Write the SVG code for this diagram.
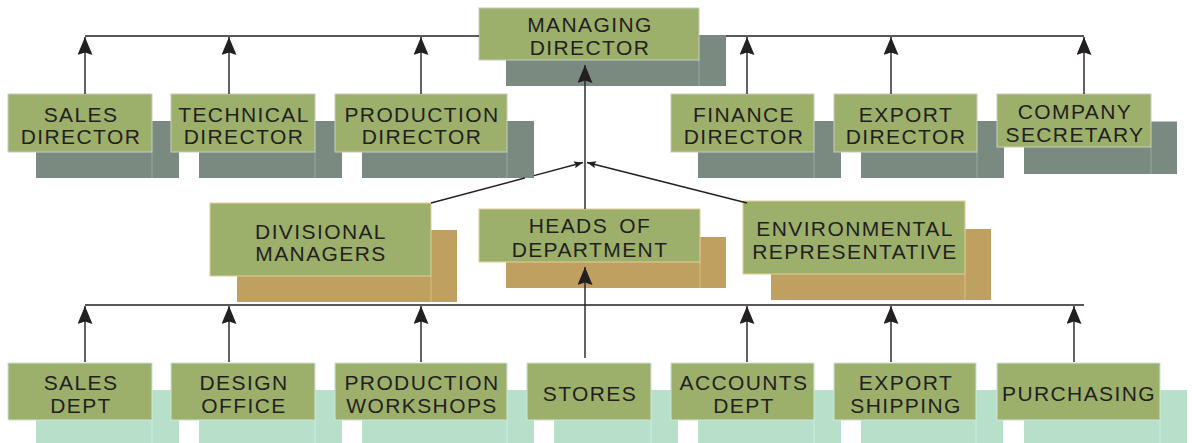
<svg xmlns="http://www.w3.org/2000/svg" width="1192" height="443" viewBox="0 0 1192 443">
  <style>
    .front { fill: #9caf6b; stroke-width: 1; }
    .dir .front { stroke: #c6cfbd; }
    .mid .front { stroke: #e2cd9c; }
    .dept .front { stroke: #c9e8d6; }
    .dir .shadow { fill: #7a8a80; }
    .mid .shadow { fill: #bfa060; }
    .dept .shadow { fill: #b8dfca; }
    .dir .seam { stroke: #9aa89f; }
    .mid .seam { stroke: #d6bd88; }
    .dept .seam { stroke: #d2ece0; }
    .seam { stroke-width: 1; }
    text { font-family: "Liberation Sans", Arial, Helvetica, sans-serif; font-size: 21px; letter-spacing: 1.4px; fill: #231f20; text-anchor: middle; }
    .conn path { fill: none; stroke: #231f20; stroke-width: 1.4; }
    .up { marker-end: url(#arrow); }
    .meet { marker-end: url(#arrowSmall); }
  </style>
  <defs>
    <marker id="arrow" markerUnits="userSpaceOnUse" viewBox="0 0 18 15" markerWidth="18" markerHeight="15" refX="18" refY="7.5" orient="auto">
      <path d="M0,0 L18,7.5 L0,15 L2.5,7.5 Z" fill="#231f20"/>
    </marker>
    <marker id="arrowSmall" markerUnits="userSpaceOnUse" viewBox="0 0 9 7" markerWidth="9" markerHeight="7" refX="9" refY="3.5" orient="auto">
      <path d="M0,0 L9,3.5 L0,7 L1.5,3.5 Z" fill="#231f20"/>
    </marker>
  </defs>

  <rect width="1192" height="443" fill="#ffffff"/>

  <!-- Board level -->
  <g id="managing-director" class="dir">
    <rect class="shadow" x="506" y="35" width="220" height="51"/>
    <line class="seam" x1="699" y1="60" x2="699" y2="86"/>
    <rect class="front" x="479" y="8" width="220" height="52"/>
    <text x="590" y="31.5">MANAGING</text>
    <text x="590" y="55">DIRECTOR</text>
  </g>

  <g id="sales-director" class="dir">
    <rect class="shadow" x="36" y="121" width="143" height="57"/>
    <line class="seam" x1="152" y1="152" x2="152" y2="178"/>
    <rect class="front" x="8" y="94" width="144" height="58"/>
    <text x="81" y="121.5">SALES</text>
    <text x="81" y="144">DIRECTOR</text>
  </g>
  <g id="technical-director" class="dir">
    <rect class="shadow" x="199" y="121" width="143" height="57"/>
    <line class="seam" x1="315" y1="152" x2="315" y2="178"/>
    <rect class="front" x="171" y="94" width="144" height="58"/>
    <text x="244" y="121.5">TECHNICAL</text>
    <text x="244" y="144">DIRECTOR</text>
  </g>
  <g id="production-director" class="dir">
    <rect class="shadow" x="362" y="121" width="172" height="57"/>
    <line class="seam" x1="507" y1="152" x2="507" y2="178"/>
    <rect class="front" x="335" y="94" width="172" height="58"/>
    <text x="422" y="121.5">PRODUCTION</text>
    <text x="422" y="144">DIRECTOR</text>
  </g>
  <g id="finance-director" class="dir">
    <rect class="shadow" x="698" y="121" width="143" height="57"/>
    <line class="seam" x1="814" y1="152" x2="814" y2="178"/>
    <rect class="front" x="671" y="94" width="143" height="58"/>
    <text x="744" y="121.5">FINANCE</text>
    <text x="744" y="144">DIRECTOR</text>
  </g>
  <g id="export-director" class="dir">
    <rect class="shadow" x="861" y="121" width="143" height="57"/>
    <line class="seam" x1="977" y1="152" x2="977" y2="178"/>
    <rect class="front" x="834" y="94" width="143" height="58"/>
    <text x="906" y="121.5">EXPORT</text>
    <text x="906" y="144">DIRECTOR</text>
  </g>
  <g id="company-secretary" class="dir">
    <rect class="shadow" x="1024" y="121.5" width="153" height="52.5"/>
    <line class="seam" x1="1151" y1="147" x2="1151" y2="174"/>
    <rect class="front" x="997" y="94" width="154" height="53"/>
    <text x="1075" y="119">COMPANY</text>
    <text x="1075" y="141.5">SECRETARY</text>
  </g>

  <!-- Middle management -->
  <g id="divisional-managers" class="mid">
    <rect class="shadow" x="237" y="230" width="220" height="72"/>
    <line class="seam" x1="431" y1="276" x2="431" y2="302"/>
    <rect class="front" x="210" y="203" width="221" height="73"/>
    <text x="321" y="238.5">DIVISIONAL</text>
    <text x="321" y="261">MANAGERS</text>
  </g>
  <g id="heads-of-department" class="mid">
    <rect class="shadow" x="506" y="237" width="220" height="51"/>
    <line class="seam" x1="700" y1="262" x2="700" y2="288"/>
    <rect class="front" x="479" y="209" width="221" height="53"/>
    <text x="590" y="233" word-spacing="4">HEADS OF</text>
    <text x="590" y="256.5">DEPARTMENT</text>
  </g>
  <g id="environmental-representative" class="mid">
    <rect class="shadow" x="771" y="229" width="220" height="71"/>
    <line class="seam" x1="965" y1="274" x2="965" y2="300"/>
    <rect class="front" x="743" y="201" width="222" height="73"/>
    <text x="855" y="236">ENVIRONMENTAL</text>
    <text x="855" y="258.5">REPRESENTATIVE</text>
  </g>

  <!-- Departments -->
  <g id="sales-dept" class="dept">
    <rect class="shadow" x="36" y="390" width="143" height="55"/>
    <line class="seam" x1="152" y1="420" x2="152" y2="443"/>
    <rect class="front" x="8" y="363" width="144" height="57"/>
    <text x="81" y="390">SALES</text>
    <text x="81" y="412.5">DEPT</text>
  </g>
  <g id="design-office" class="dept">
    <rect class="shadow" x="199" y="390" width="143" height="55"/>
    <line class="seam" x1="315" y1="420" x2="315" y2="443"/>
    <rect class="front" x="171" y="363" width="144" height="57"/>
    <text x="244" y="390">DESIGN</text>
    <text x="244" y="412.5">OFFICE</text>
  </g>
  <g id="production-workshops" class="dept">
    <rect class="shadow" x="362" y="390" width="172" height="55"/>
    <line class="seam" x1="507" y1="420" x2="507" y2="443"/>
    <rect class="front" x="335" y="363" width="172" height="57"/>
    <text x="422" y="390">PRODUCTION</text>
    <text x="422" y="412.5">WORKSHOPS</text>
  </g>
  <g id="stores" class="dept">
    <rect class="shadow" x="554" y="390" width="124" height="55"/>
    <line class="seam" x1="651" y1="420" x2="651" y2="443"/>
    <rect class="front" x="527" y="363" width="124" height="57"/>
    <text x="590" y="401">STORES</text>
  </g>
  <g id="accounts-dept" class="dept">
    <rect class="shadow" x="698" y="390" width="143" height="55"/>
    <line class="seam" x1="814" y1="420" x2="814" y2="443"/>
    <rect class="front" x="671" y="363" width="143" height="57"/>
    <text x="744" y="390">ACCOUNTS</text>
    <text x="744" y="412.5">DEPT</text>
  </g>
  <g id="export-shipping" class="dept">
    <rect class="shadow" x="861" y="390" width="142" height="55"/>
    <line class="seam" x1="976" y1="420" x2="976" y2="443"/>
    <rect class="front" x="834" y="363" width="142" height="57"/>
    <text x="906" y="390">EXPORT</text>
    <text x="906" y="412.5">SHIPPING</text>
  </g>
  <g id="purchasing" class="dept">
    <rect class="shadow" x="1024" y="390" width="163" height="55"/>
    <line class="seam" x1="1160" y1="420" x2="1160" y2="443"/>
    <rect class="front" x="997" y="363" width="163" height="57"/>
    <text x="1079" y="401">PURCHASING</text>
  </g>

  <!-- Reporting lines -->
  <g id="connectors" class="conn">
    <!-- board bus, passing behind the managing director box -->
    <path d="M85,36 H479"/>
    <path d="M726,36 H1084"/>
    <path class="up" d="M85,94 V37"/>
    <path class="up" d="M229,94 V37"/>
    <path class="up" d="M421,94 V37"/>
    <path class="up" d="M747,94 V37"/>
    <path class="up" d="M891,94 V37"/>
    <path class="up" d="M1084,94 V37"/>

    <!-- middle management to managing director -->
    <path class="up" d="M585,209 V65"/>
    <path d="M431,203 L524.8,178"/>
    <path class="meet" d="M534,175.6 L583,162.5"/>
    <path class="meet" d="M747,203 L587,162.5"/>

    <!-- department bus -->
    <path d="M85,305 H1084"/>
    <path class="up" d="M85,362 V306"/>
    <path class="up" d="M229,362 V306"/>
    <path class="up" d="M421,362 V306"/>
    <path class="up" d="M747,362 V306"/>
    <path class="up" d="M891,362 V306"/>
    <path class="up" d="M1074,362 V306"/>
    <path class="up" d="M585,358 V267"/>
  </g>
</svg>
